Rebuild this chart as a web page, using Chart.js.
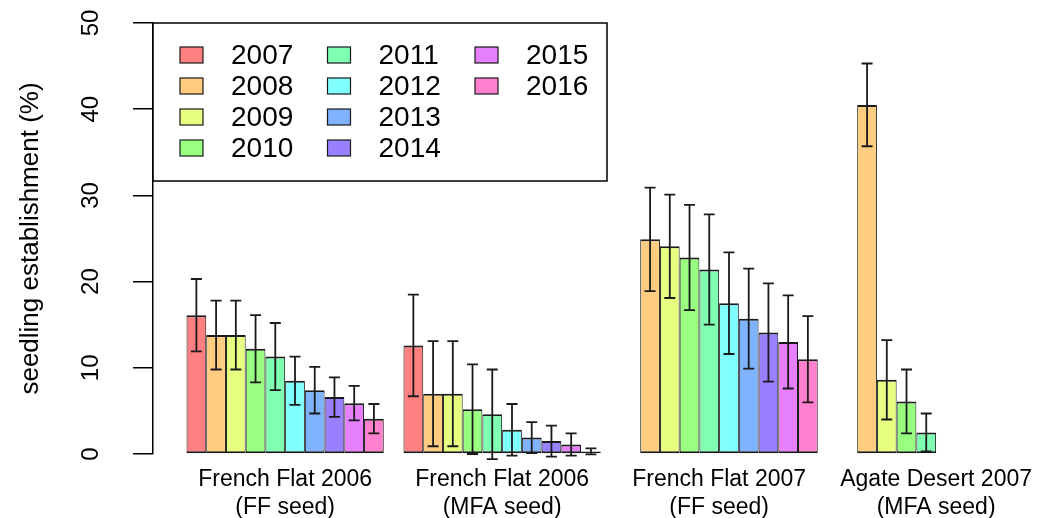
<!DOCTYPE html>
<html>
<head>
<meta charset="utf-8">
<script src="https://cdn.jsdelivr.net/npm/chart.js@4.4.1/dist/chart.umd.min.js"></script>
<style>
  html, body { margin: 0; padding: 0; background: #fff; overflow: hidden; }
</style>
</head>
<body>
<canvas id="chart" width="1044" height="518"></canvas>
<script>
const FONT = '"Liberation Sans", Arial, Helvetica, sans-serif';

// sites along the x axis (two-line labels)
const siteLabels = [
    ['French Flat 2006', '(FF seed)'],
    ['French Flat 2006', '(MFA seed)'],
    ['French Flat 2007', '(FF seed)'],
    ['Agate Desert 2007', '(MFA seed)']
];

const years = ['2007', '2008', '2009', '2010', '2011', '2012', '2013', '2014', '2015', '2016'];
const yearColors = ['#FF8080', '#FFCC80', '#E6FF80', '#99FF80', '#80FFB3',
                    '#80FFFF', '#80B3FF', '#9980FF', '#E680FF', '#FF80CC'];

// mean seedling establishment (%) by year, one array per site
const ff2006ff  = [16.1, 13.8, 13.8, 12.2, 11.3, 8.5, 7.4, 6.6, 5.9, 4.1];
const ff2006mfa = [12.6, 7.0, 7.0, 5.2, 4.6, 2.8, 1.9, 1.5, 1.1, 0.3];
const ff2007ff  = [null, 24.9, 24.1, 22.8, 21.4, 17.5, 15.7, 14.1, 13.0, 11.0];
const ad2007mfa = [null, 40.5, 8.6, 6.1, 2.5, null, null, null, null, null];

// half-width of the error bars, same layout as above
const ff2006ffErr  = [4.2, 4.0, 4.0, 3.9, 3.9, 2.8, 2.7, 2.3, 2.0, 1.7];
const ff2006mfaErr = [5.9, 6.1, 6.1, 5.2, 5.2, 3.0, 1.8, 1.8, 1.3, 0.35];
const ff2007ffErr  = [null, 6.0, 6.0, 6.1, 6.4, 5.9, 5.8, 5.7, 5.4, 5.0];
const ad2007mfaErr = [null, 4.8, 4.6, 3.7, 2.2, null, null, null, null, null];

const siteMeans = [ff2006ff, ff2006mfa, ff2007ff, ad2007mfa];
const siteErrs = [ff2006ffErr, ff2006mfaErr, ff2007ffErr, ad2007mfaErr];

// one dataset per year, each with one bar per site
const datasets = years.map((yr, j) => ({
    label: yr,
    data: siteMeans.map((m, i) => ({ x: i, y: m[j] })),
    errors: siteErrs.map(e => e[j]),
    backgroundColor: yearColors[j],
    borderColor: '#1a1a1a',
    borderWidth: { top: 2, bottom: 2, left: 1, right: 1 },
    borderSkipped: false,
    categoryPercentage: 10 / 11,
    barPercentage: 1
}));

// vertical error bars with caps, drawn on top of the bars
const errorBars = {
    id: 'errorBars',
    afterDatasetsDraw(chart) {
        const { ctx } = chart;
        const yScale = chart.scales.y;
        ctx.save();
        ctx.strokeStyle = '#1a1a1a';
        ctx.lineWidth = 1.8;
        chart.data.datasets.forEach((ds, di) => {
            const meta = chart.getDatasetMeta(di);
            meta.data.forEach((bar, i) => {
                const v = ds.data[i].y;
                const e = ds.errors[i];
                if (v == null || e == null) return;
                const top = yScale.getPixelForValue(v + e);
                const bot = yScale.getPixelForValue(v - e);
                const cap = 5.5;
                ctx.beginPath();
                ctx.moveTo(bar.x, top);
                ctx.lineTo(bar.x, bot);
                ctx.moveTo(bar.x - cap, top);
                ctx.lineTo(bar.x + cap, top);
                ctx.moveTo(bar.x - cap, bot);
                ctx.lineTo(bar.x + cap, bot);
                ctx.stroke();
            });
        });
        ctx.restore();
    }
};

// boxed legend in the top-left corner, filled column by column
const boxLegend = {
    id: 'boxLegend',
    afterDraw(chart) {
        const { ctx, chartArea } = chart;
        const left = chartArea.left;
        const top = chartArea.top;
        ctx.save();
        ctx.fillStyle = '#fff';
        ctx.fillRect(left, top, 454, 158);
        ctx.strokeStyle = '#000';
        ctx.lineWidth = 1.5;
        ctx.strokeRect(left, top, 454, 158);
        ctx.font = '28px ' + FONT;
        ctx.textBaseline = 'middle';
        ctx.lineWidth = 1.2;
        chart.data.datasets.forEach((ds, i) => {
            const col = Math.floor(i / 4);
            const row = i % 4;
            const sx = left + 27 + col * 147.5;
            const sy = top + 32 + row * 31;
            ctx.fillStyle = ds.backgroundColor;
            ctx.fillRect(sx, sy - 8, 23, 16);
            ctx.strokeStyle = '#1a1a1a';
            ctx.strokeRect(sx, sy - 8, 23, 16);
            ctx.fillStyle = '#000';
            ctx.fillText(ds.label, sx + 51, sy + 1);
        });
        ctx.restore();
    }
};

new Chart(document.getElementById('chart'), {
    type: 'bar',
    data: { datasets: datasets },
    plugins: [errorBars, boxLegend],
    options: {
        responsive: false,
        animation: false,
        layout: { padding: { top: 23, right: 0, bottom: 0, left: 0 } },
        plugins: {
            legend: { display: false },
            tooltip: { enabled: false }
        },
        scales: {
            x: {
                type: 'linear',
                offset: false,
                min: -0.609,
                max: 3.441,
                grid: { display: false, drawTicks: false, offset: false },
                border: { display: false },
                afterBuildTicks: s => { s.ticks = siteLabels.map((_, i) => ({ value: i })); },
                afterFit: s => { s.height = 64; },
                ticks: {
                    autoSkip: false,
                    maxRotation: 0,
                    padding: 12,
                    color: '#000',
                    font: { family: FONT, size: 23 },
                    callback: v => siteLabels[v]
                }
            },
            y: {
                min: 0,
                max: 50,
                // fixed axis width; the rotated labels need no extra room above/below
                afterFit: s => {
                    s.width = 153;
                    s.paddingTop = 0;
                    s.paddingBottom = 0;
                },
                ticks: {
                    stepSize: 10,
                    minRotation: 90,
                    maxRotation: 90,
                    crossAlign: 'center',
                    padding: 28,
                    color: '#000',
                    font: { family: FONT, size: 24 }
                },
                grid: {
                    display: true,
                    drawOnChartArea: false,
                    drawTicks: true,
                    tickLength: 20,
                    color: '#000',
                    lineWidth: 1.5
                },
                border: { display: true, color: '#000', width: 1.5 },
                title: {
                    display: true,
                    text: 'seedling establishment (%)',
                    color: '#000',
                    font: { family: FONT, size: 26 },
                    padding: { top: 15, bottom: 0 }
                }
            }
        }
    }
});
</script>
</body>
</html>
